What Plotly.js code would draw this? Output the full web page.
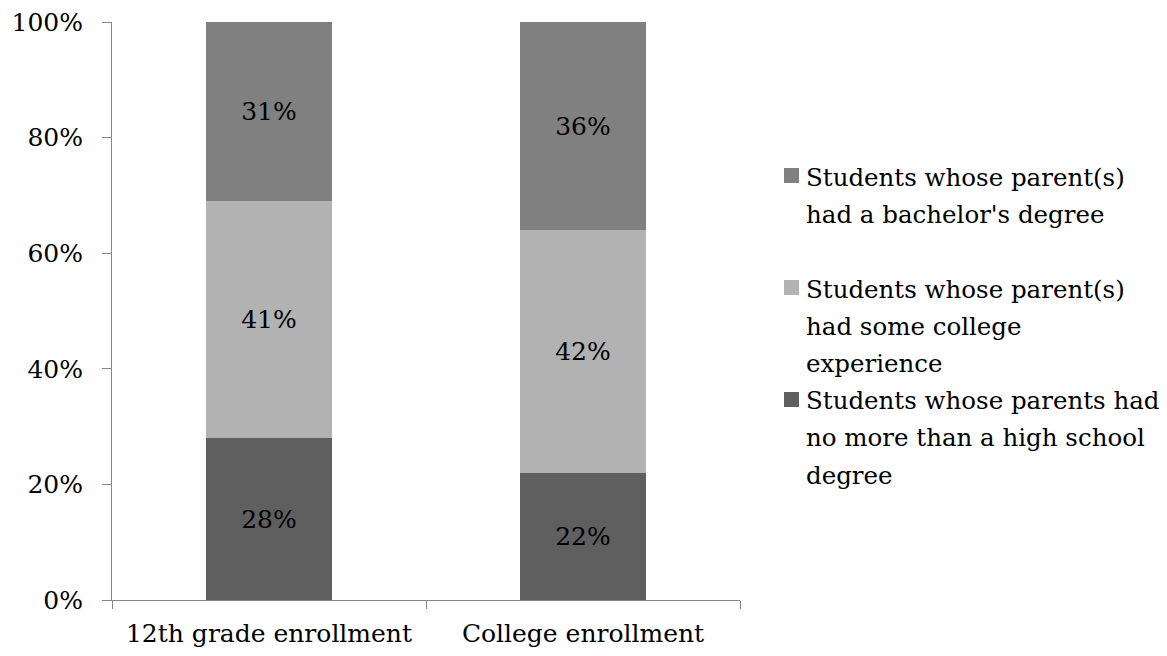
<!DOCTYPE html>
<html>
<head>
<meta charset="utf-8">
<script src="https://cdn.plot.ly/plotly-3.0.1.min.js"></script>
<style>
  html, body { margin: 0; padding: 0; background: #ffffff; }
  #chart { width: 1167px; height: 656px; }
</style>
</head>
<body>
<div id="chart"></div>
<script>
// Enrollment groups on the x axis
const categories = ['12th grade enrollment', 'College enrollment'];

// Share of students by parents' education (fractions of 1)
const highSchool = [0.28, 0.22];
const someCollege = [0.41, 0.42];
const bachelor = [0.31, 0.36];

// Series names, split over lines as they are shown beside the chart
const seriesNames = [
  'Students whose parents had<br>no more than a high school<br>degree',
  'Students whose parent(s)<br>had some college<br>experience',
  "Students whose parent(s)<br>had a bachelor's degree"
];
const seriesColors = ['#5f5f5f', '#b2b2b2', '#808080'];
const seriesValues = [highSchool, someCollege, bachelor];

const FONT = "'DejaVu Serif', serif";
const SIZE = 25;
const KEY_SIZE = 24.5;

const traces = seriesValues.map((vals, i) => ({
  type: 'bar',
  x: categories,
  y: vals,
  name: seriesNames[i],
  marker: { color: seriesColors[i], line: { width: 0 } },
  text: vals.map(v => Math.round(v * 100) + '%'),
  textposition: 'inside',
  insidetextanchor: 'middle',
  constraintext: 'none',
  textfont: { family: FONT, size: SIZE, color: '#000000' },
  hoverinfo: 'skip',
  showlegend: false
}));

// Plot area in pixels, used to place the key beside it
const plotL = 112, plotR = 740, plotT = 22, plotB = 600;
const px = v => (v - plotL) / (plotR - plotL);
const py = v => (plotB - v) / (plotB - plotT);

// Key entries, top to bottom: bachelor, some college, high school.
// Each entry starts 112px below the previous one; text lines are 37px apart.
const keyOrder = [2, 1, 0];
const keyBaseline = [185, 297, 409];
const lineStep = 37;
const shapes = [];
const annotations = [];
keyOrder.forEach((s, k) => {
  const b = keyBaseline[k];
  shapes.push({
    type: 'rect', xref: 'paper', yref: 'paper',
    x0: px(784), x1: px(799), y0: py(b - 17), y1: py(b - 2),
    fillcolor: seriesColors[s], line: { width: 0 }
  });
  seriesNames[s].split('<br>').forEach((line, j) => {
    annotations.push({
      xref: 'paper', yref: 'paper',
      x: px(804), y: py(b + j * lineStep - 8),
      xanchor: 'left', yanchor: 'middle', align: 'left',
      showarrow: false,
      text: line,
      font: { family: FONT, size: KEY_SIZE, color: '#000000' }
    });
  });
});

const layout = {
  width: 1167,
  height: 656,
  margin: { l: plotL, r: 1167 - plotR, t: plotT, b: 656 - plotB, pad: 0 },
  paper_bgcolor: '#ffffff',
  plot_bgcolor: '#ffffff',
  barmode: 'stack',
  bargap: 0.6,
  showlegend: false,
  font: { family: FONT, size: SIZE, color: '#000000' },
  xaxis: {
    type: 'category',
    showline: true, linecolor: '#868686', linewidth: 1,
    ticks: 'outside', tickson: 'boundaries', ticklen: 8, tickcolor: '#868686',
    ticklabelstandoff: 11,
    showgrid: false, zeroline: false,
    tickfont: { family: FONT, size: SIZE, color: '#000000' }
  },
  yaxis: {
    range: [0, 1],
    dtick: 0.2,
    tickformat: '.0%',
    showline: true, linecolor: '#868686', linewidth: 1,
    ticks: 'outside', ticklen: 9, tickcolor: '#868686',
    ticklabelstandoff: 14,
    showgrid: false, zeroline: false,
    tickfont: { family: FONT, size: SIZE, color: '#000000' }
  },
  shapes: shapes,
  annotations: annotations
};

Plotly.newPlot('chart', traces, layout, { displayModeBar: false, staticPlot: true });
</script>
</body>
</html>
